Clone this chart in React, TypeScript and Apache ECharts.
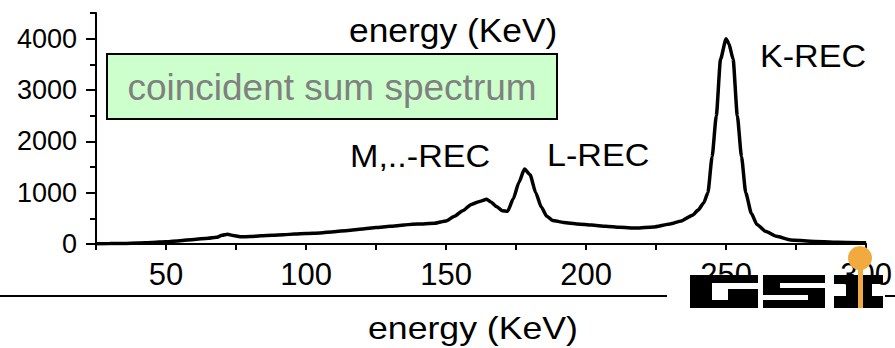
import React, { useEffect, useRef } from "react";
import * as echarts from "echarts";

const energy = [
  25, 30, 35, 40, 45, 50, 55, 60, 65, 68, 70, 72, 74, 77, 80, 84, 88, 92, 96, 100,
  105, 110, 115, 120, 125, 130, 135, 138, 142, 146, 150, 153, 156, 159, 162, 164.5, 166, 168, 170, 172,
  174, 176, 178, 180, 182, 184, 186, 188, 192, 197, 202, 207, 212, 218, 224, 230, 234, 238, 240, 242,
  243.5, 245, 246.5, 248, 250, 251, 252.5, 254, 255.5, 257, 259, 261, 264, 268, 273, 280, 290, 300,
];
const counts = [
  5, 8, 12, 20, 30, 45, 65, 90, 110, 130, 170, 190, 165, 140, 145, 160, 170, 180, 195, 205,
  215, 240, 265, 290, 320, 345, 370, 385, 390, 405, 450, 540, 650, 770, 830, 870, 820, 730, 650, 640,
  880, 1200, 1460, 1350, 1000, 720, 540, 460, 420, 390, 370, 345, 325, 310, 330, 390, 450, 560, 660, 800,
  1000, 1700, 2500, 3600, 4000, 3900, 3600, 2500, 1700, 1000, 600, 380, 250, 150, 80, 55, 35, 25,
];
const yMajorTicks = [0, 1000, 2000, 3000, 4000];
const yMinorTicks = [500, 1500, 2500, 3500, 4500];
const peakLabels = ["M,..-REC", "L-REC", "K-REC"];
const boxText = "coincident sum spectrum";
const axisTitle = "energy (KeV)";

const FONT = "'Liberation Sans', Arial, sans-serif";

export default function App() {
  const ref = useRef<HTMLDivElement>(null);
  useEffect(() => {
    if (!ref.current) return;
    const chart = echarts.init(ref.current, undefined, { renderer: "svg" });
    const data = energy.map((e, i) => [e, counts[i]]);
    const label = (text: string, x: number, y: number, size: number, sx: number, color = "#000", z = 10) => ({
      type: "text",
      x,
      y,
      scaleX: sx,
      z,
      style: { text, fontSize: size, fontFamily: FONT, fill: color, align: "left", verticalAlign: "middle" },
    });
    const blk = (x: number, y: number, w: number, h: number, fill = "#000") => ({
      type: "rect",
      shape: { x, y, width: w, height: h },
      style: { fill },
      z: 100,
    });
    chart.setOption({
      animation: false,
      backgroundColor: "#fff",
      grid: { left: 96, right: 24, top: 13, bottom: 104 },
      xAxis: {
        type: "value",
        min: 25,
        max: 300,
        interval: 25,
        axisLine: { lineStyle: { color: "#000", width: 2 } },
        axisTick: { show: true, length: 6, lineStyle: { color: "#000", width: 2 } },
        axisLabel: {
          fontSize: 31,
          fontFamily: FONT,
          color: "#000",
          margin: 15,
          formatter: (v: number) => (v % 50 === 0 ? String(v) : ""),
        },
        splitLine: { show: false },
      },
      yAxis: [
        {
          type: "value",
          min: 0,
          max: 4500,
          position: "left",
          axisLine: { show: true, lineStyle: { color: "#000", width: 2 } },
          axisTick: { show: true, length: 10, customValues: yMajorTicks, lineStyle: { color: "#000", width: 2 } },
          axisLabel: {
            fontSize: 27,
            fontFamily: FONT,
            color: "#000",
            margin: 19,
            customValues: yMajorTicks,
            formatter: (v: number) => String(v),
          },
          splitLine: { show: false },
        },
        {
          type: "value",
          min: 0,
          max: 4500,
          position: "left",
          axisLine: { show: false },
          axisTick: { show: true, length: 6, customValues: yMinorTicks, lineStyle: { color: "#000", width: 2 } },
          axisLabel: { show: false },
          splitLine: { show: false },
        },
      ],
      series: [
        {
          type: "line",
          data,
          showSymbol: false,
          smooth: 0.2,
          smoothMonotone: "x",
          lineStyle: { color: "#000", width: 3.5 },
          z: 5,
        },
      ],
      graphic: [
        {
          type: "rect",
          shape: { x: 107, y: 54, width: 450, height: 65 },
          style: { fill: "#ccffcc", stroke: "#000", lineWidth: 2 },
          z: 10,
        },
        {
          type: "text",
          x: 332,
          y: 87,
          z: 11,
          style: { text: boxText, fontSize: 37, fontFamily: FONT, fill: "#808080", align: "center", verticalAlign: "middle" },
        },
        label(axisTitle, 349, 30, 34, 1.04),
        label(peakLabels[0], 350, 157, 31, 1.1),
        label(peakLabels[1], 547, 156, 31, 1.1),
        label(peakLabels[2], 760, 57, 31, 1.1),
        label(axisTitle, 368, 328, 31, 1.15),
        { type: "line", shape: { x1: 0, y1: 296, x2: 667, y2: 296 }, style: { stroke: "#000", lineWidth: 2 }, z: 10 },
        { type: "line", shape: { x1: 885, y1: 296, x2: 895, y2: 296 }, style: { stroke: "#000", lineWidth: 2 }, z: 10 },
        // GSI logo
        blk(690, 275, 68, 33),
        blk(712, 283, 46, 6, "#fff"),
        blk(712, 289, 16, 11, "#fff"),
        blk(763, 275, 62, 33),
        blk(780, 283, 45, 5, "#fff"),
        blk(763, 295, 45, 5, "#fff"),
        blk(834, 275, 49, 9),
        blk(846, 275, 26, 33),
        blk(834, 296, 49, 12),
        { type: "circle", shape: { cx: 860, cy: 258, r: 12 }, style: { fill: "#f0aa40" }, z: 101 },
        blk(858, 258, 5, 50, "#f0aa40"),
      ],
    });
    return () => chart.dispose();
  }, []);
  return <div ref={ref} style={{ position: "fixed", left: 0, top: 0, width: 895, height: 348 }} />;
}
